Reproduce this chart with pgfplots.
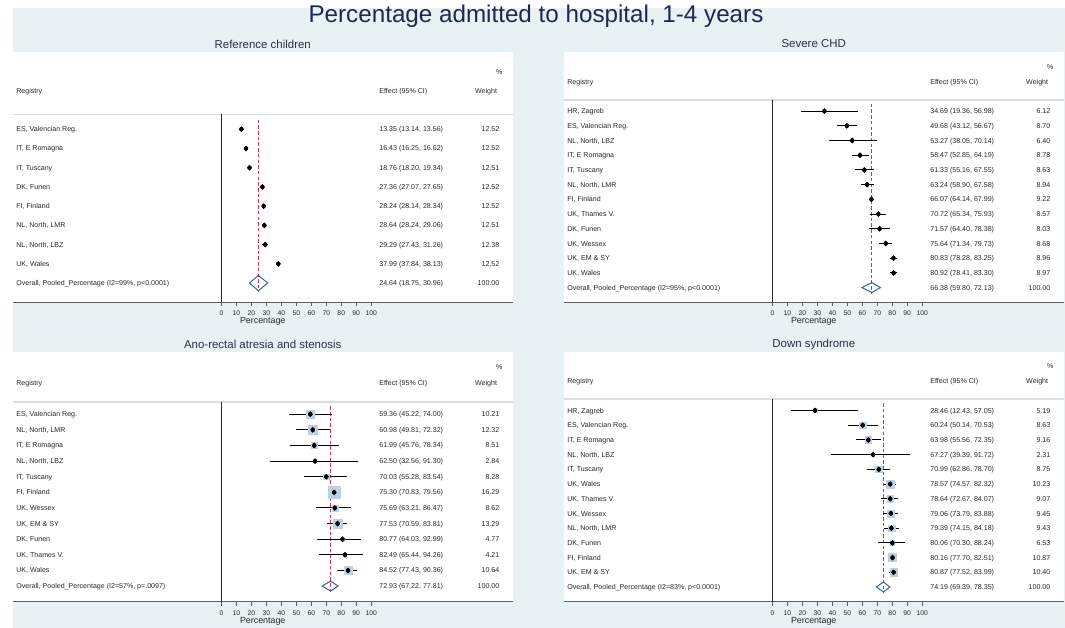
\documentclass[border=0pt]{standalone}
\usepackage{fontspec}
\setmainfont{Liberation Sans}
\usepackage{pgfplots}
\pgfplotsset{compat=1.18}
\usepackage{pgfplotstable}

\definecolor{bgc}{RGB}{232,241,243}
\definecolor{ttl}{RGB}{28,42,80}
\definecolor{sub}{RGB}{40,48,72}
\definecolor{txt}{RGB}{40,40,40}
\definecolor{sepc}{RGB}{218,220,222}
\definecolor{axc}{RGB}{95,95,95}
\definecolor{refl}{RGB}{205,55,85}
\definecolor{dia}{RGB}{55,100,150}
\definecolor{boxc}{RGB}{192,208,226}

% Reference children
\pgfplotstableread{
row est lo hi w
1 13.35 13.14 13.56 12.52
2 16.43 16.25 16.62 12.52
3 18.76 18.20 19.34 12.51
4 27.36 27.07 27.65 12.52
5 28.24 28.14 28.34 12.52
6 28.64 28.24 29.06 12.51
7 29.29 27.43 31.26 12.38
8 37.99 37.84 38.13 12.52
}\tabA
% Severe CHD
\pgfplotstableread{
row est lo hi w
1 34.69 19.36 56.98 6.12
2 49.68 43.12 56.67 8.70
3 53.27 38.05 70.14 6.40
4 58.47 52.85 64.19 8.78
5 61.33 55.16 67.55 8.63
6 63.24 58.90 67.58 8.94
7 66.07 64.14 67.99 9.22
8 70.72 65.34 75.93 8.57
9 71.57 64.40 78.38 8.03
10 75.64 71.34 79.73 8.68
11 80.83 78.28 83.25 8.96
12 80.92 78.41 83.30 8.97
}\tabB
% Ano-rectal atresia and stenosis
\pgfplotstableread{
row est lo hi w
1 59.36 45.22 74.00 10.21
2 60.98 49.81 72.32 12.32
3 61.99 45.76 78.34 8.51
4 62.50 32.56 91.30 2.84
5 70.03 55.28 83.54 8.28
6 75.30 70.83 79.56 16.29
7 75.69 63.21 86.47 8.62
8 77.53 70.59 83.81 13.29
9 80.77 64.03 92.99 4.77
10 82.49 65.44 94.26 4.21
11 84.52 77.43 90.36 10.64
}\tabC
% Down syndrome
\pgfplotstableread{
row est lo hi w
1 28.46 12.43 57.05 5.19
2 60.24 50.14 70.53 8.63
3 63.98 55.56 72.35 9.16
4 67.27 39.39 91.72 2.31
5 70.99 62.86 78.70 8.75
6 78.57 74.57 82.32 10.23
7 78.64 72.67 84.07 9.07
8 79.06 73.79 83.88 9.45
9 79.39 74.15 84.18 9.43
10 80.06 70.30 88.24 6.53
11 80.16 77.70 82.51 10.87
12 80.87 77.52 83.99 10.40
}\tabD

\tikzset{tx/.style={font=\fontsize{7.1}{8.5}\selectfont, text=txt, inner sep=0pt, yshift=-2.54bp}}

\pgfplotsset{
  forest/.style={
    scale only axis, width=499.5bp, height=250bp, anchor=south west,
    xmin=-139.1, xmax=194.3, ymax=3,
    axis x line*=bottom, axis y line=none,
    x axis line style={draw=axc, line width=1.3bp, -},
    xtick={0,10,...,100},
    tick align=outside, major tick length=4bp,
    xtick style={draw=axc, line width=0.7bp},
    ytick=\empty,
    /pgf/number format/assume math mode=true,
    xticklabel style={font=\fontsize{6.8}{7}\selectfont, text=txt, inner sep=1pt, yshift=-3.5bp},
    xlabel={Percentage},
    xlabel style={font=\fontsize{8.9}{9}\selectfont, text=txt, inner sep=0pt, yshift=-0.8bp},
    axis background/.style={fill=white},
    clip=false,
  },
  ci/.style={only marks, mark=none, forget plot,
    error bars/x dir=both, error bars/x explicit, error bars/error mark=none,
    error bars/error bar style={draw=black, solid, line width=0.9bp}},
  estm/.style={only marks, mark=diamond*, mark size=2.6bp, black, mark options={solid}},
  refline/.style={no marks, draw=refl, color=refl, line width=1.2bp, dash pattern=on 3.5bp off 2.2bp},
  dmd/.style={no marks, draw=dia, line width=1bp},
  wbox/.style={scatter, only marks, mark=square*,
    scatter/use mapped color={draw=boxc, fill=boxc},
    visualization depends on={\thisrow{w} \as \wt},
    scatter/@pre marker code/.append style={/tikz/mark size=0.36*\wt}},
}

\newcommand\rt[4]{%
  \node[tx, anchor=base west] at (axis cs:-137.0,-#1) {#2};
  \node[tx, anchor=base west] at (axis cs:105.3,-#1) {#3};
  \node[tx, anchor=base east] at (axis cs:185.6,-#1) {#4};}
\newcommand\hdr{%
  \node[tx, anchor=base] at (axis cs:185.4,2) {\%};
  \node[tx, anchor=base west] at (axis cs:-137.0,1) {Registry};
  \node[tx, anchor=base west] at (axis cs:105.3,1) {Effect (95\% CI)};
  \node[tx, anchor=base] at (axis cs:176.7,1) {Weight};
  \draw[sepc, line width=1.8bp] (axis cs:-139.1,-0.23) -- (axis cs:194.3,-0.23);}

\begin{document}
\begin{tikzpicture}
\useasboundingbox (0,0) rectangle (1065bp,628bp);
\fill[white] (0,0) rectangle (1065bp,628bp);
\fill[bgc] (13bp,0) rectangle (1065bp,620bp);
\node[font=\fontsize{24.3}{28}\selectfont, text=ttl] at (536bp,611.3bp) {Percentage admitted to hospital, 1-4 years};
\node[font=\fontsize{11.5}{13}\selectfont, text=sub] at (262.75bp,584bp) {Reference children};
\node[font=\fontsize{11.5}{13}\selectfont, text=sub] at (813.75bp,584bp) {Severe CHD};
\node[font=\fontsize{11.5}{13}\selectfont, text=sub] at (262.75bp,283.3bp) {Ano-rectal atresia and stenosis};
\node[font=\fontsize{11.5}{13}\selectfont, text=sub] at (813.75bp,283.3bp) {Down syndrome};

% ---------------- Panel 1
\begin{axis}[forest, at={(13bp,325.7bp)}, ymin=-10]
\hdr
\draw[black!85, line width=0.8bp] (axis cs:0,-0.23) -- (axis cs:0,-10);
\addplot[refline] coordinates {(24.64,-0.5) (24.64,-9.42)};
\addplot[ci] table[x=est, y expr=-\thisrow{row}, x error plus expr=\thisrow{hi}-\thisrow{est}, x error minus expr=\thisrow{est}-\thisrow{lo}] {\tabA};
\addplot[estm] table[x=est, y expr=-\thisrow{row}] {\tabA};
\addplot[dmd] coordinates {(18.75,-9) (24.64,-8.6) (30.96,-9) (24.64,-9.4)} -- cycle;
\rt{1}{ES, Valencian Reg.}{13.35 (13.14, 13.56)}{12.52}
\rt{2}{IT, E Romagna}{16.43 (16.25, 16.62)}{12.52}
\rt{3}{IT, Tuscany}{18.76 (18.20, 19.34)}{12.51}
\rt{4}{DK, Funen}{27.36 (27.07, 27.65)}{12.52}
\rt{5}{FI, Finland}{28.24 (28.14, 28.34)}{12.52}
\rt{6}{NL, North, LMR}{28.64 (28.24, 29.06)}{12.51}
\rt{7}{NL, North, LBZ}{29.29 (27.43, 31.26)}{12.38}
\rt{8}{UK, Wales}{37.99 (37.84, 38.13)}{12.52}
\rt{9}{Overall, Pooled\_Percentage (I2=99\%, p<0.0001)}{24.64 (18.75, 30.96)}{100.00}
\end{axis}

% ---------------- Panel 2
\begin{axis}[forest, at={(564bp,325.7bp)}, ymin=-14]
\hdr
\draw[black!85, line width=0.8bp] (axis cs:0,-0.23) -- (axis cs:0,-14);
\addplot[refline] coordinates {(66.38,-0.5) (66.38,-13.42)};
\addplot[ci] table[x=est, y expr=-\thisrow{row}, x error plus expr=\thisrow{hi}-\thisrow{est}, x error minus expr=\thisrow{est}-\thisrow{lo}] {\tabB};
\addplot[estm] table[x=est, y expr=-\thisrow{row}] {\tabB};
\addplot[dmd] coordinates {(59.80,-13) (66.38,-12.66) (72.13,-13) (66.38,-13.34)} -- cycle;
\rt{1}{HR, Zagreb}{34.69 (19.36, 56.98)}{6.12}
\rt{2}{ES, Valencian Reg.}{49.68 (43.12, 56.67)}{8.70}
\rt{3}{NL, North, LBZ}{53.27 (38.05, 70.14)}{6.40}
\rt{4}{IT, E Romagna}{58.47 (52.85, 64.19)}{8.78}
\rt{5}{IT, Tuscany}{61.33 (55.16, 67.55)}{8.63}
\rt{6}{NL, North, LMR}{63.24 (58.90, 67.58)}{8.94}
\rt{7}{FI, Finland}{66.07 (64.14, 67.99)}{9.22}
\rt{8}{UK, Thames V.}{70.72 (65.34, 75.93)}{8.57}
\rt{9}{DK, Funen}{71.57 (64.40, 78.38)}{8.03}
\rt{10}{UK, Wessex}{75.64 (71.34, 79.73)}{8.68}
\rt{11}{UK, EM \& SY}{80.83 (78.28, 83.25)}{8.96}
\rt{12}{UK, Wales}{80.92 (78.41, 83.30)}{8.97}
\rt{13}{Overall, Pooled\_Percentage (I2=95\%, p<0.0001)}{66.38 (59.80, 72.13)}{100.00}
\end{axis}

% ---------------- Panel 3
\begin{axis}[forest, at={(13bp,26.3bp)}, ymin=-13]
\hdr
\draw[black!85, line width=0.8bp] (axis cs:0,-0.23) -- (axis cs:0,-13);
\addplot[wbox] table[x=est, y expr=-\thisrow{row}] {\tabC};
\addplot[refline] coordinates {(72.93,-0.5) (72.93,-12.4)};
\addplot[ci] table[x=est, y expr=-\thisrow{row}, x error plus expr=\thisrow{hi}-\thisrow{est}, x error minus expr=\thisrow{est}-\thisrow{lo}] {\tabC};
\addplot[estm] table[x=est, y expr=-\thisrow{row}] {\tabC};
\addplot[dmd] coordinates {(67.22,-12) (72.93,-11.68) (77.81,-12) (72.93,-12.32)} -- cycle;
\rt{1}{ES, Valencian Reg.}{59.36 (45.22, 74.00)}{10.21}
\rt{2}{NL, North, LMR}{60.98 (49.81, 72.32)}{12.32}
\rt{3}{IT, E Romagna}{61.99 (45.76, 78.34)}{8.51}
\rt{4}{NL, North, LBZ}{62.50 (32.56, 91.30)}{2.84}
\rt{5}{IT, Tuscany}{70.03 (55.28, 83.54)}{8.28}
\rt{6}{FI, Finland}{75.30 (70.83, 79.56)}{16.29}
\rt{7}{UK, Wessex}{75.69 (63.21, 86.47)}{8.62}
\rt{8}{UK, EM \& SY}{77.53 (70.59, 83.81)}{13.29}
\rt{9}{DK, Funen}{80.77 (64.03, 92.99)}{4.77}
\rt{10}{UK, Thames V.}{82.49 (65.44, 94.26)}{4.21}
\rt{11}{UK, Wales}{84.52 (77.43, 90.36)}{10.64}
\rt{12}{Overall, Pooled\_Percentage (I2=57\%, p=.0097)}{72.93 (67.22, 77.81)}{100.00}
\end{axis}

% ---------------- Panel 4
\begin{axis}[forest, at={(564bp,26.3bp)}, ymin=-14]
\hdr
\draw[black!85, line width=0.8bp] (axis cs:0,-0.23) -- (axis cs:0,-14);
\addplot[wbox] table[x=est, y expr=-\thisrow{row}] {\tabD};
\addplot[refline] coordinates {(74.19,-0.5) (74.19,-13.42)};
\addplot[ci] table[x=est, y expr=-\thisrow{row}, x error plus expr=\thisrow{hi}-\thisrow{est}, x error minus expr=\thisrow{est}-\thisrow{lo}] {\tabD};
\addplot[estm] table[x=est, y expr=-\thisrow{row}] {\tabD};
\addplot[dmd] coordinates {(69.39,-13) (74.19,-12.66) (78.35,-13) (74.19,-13.34)} -- cycle;
\rt{1}{HR, Zagreb}{28.46 (12.43, 57.05)}{5.19}
\rt{2}{ES, Valencian Reg.}{60.24 (50.14, 70.53)}{8.63}
\rt{3}{IT, E Romagna}{63.98 (55.56, 72.35)}{9.16}
\rt{4}{NL, North, LBZ}{67.27 (39.39, 91.72)}{2.31}
\rt{5}{IT, Tuscany}{70.99 (62.86, 78.70)}{8.75}
\rt{6}{UK, Wales}{78.57 (74.57, 82.32)}{10.23}
\rt{7}{UK, Thames V.}{78.64 (72.67, 84.07)}{9.07}
\rt{8}{UK, Wessex}{79.06 (73.79, 83.88)}{9.45}
\rt{9}{NL, North, LMR}{79.39 (74.15, 84.18)}{9.43}
\rt{10}{DK, Funen}{80.06 (70.30, 88.24)}{6.53}
\rt{11}{FI, Finland}{80.16 (77.70, 82.51)}{10.87}
\rt{12}{UK, EM \& SY}{80.87 (77.52, 83.99)}{10.40}
\rt{13}{Overall, Pooled\_Percentage (I2=83\%, p<0.0001)}{74.19 (69.39, 78.35)}{100.00}
\end{axis}
\end{tikzpicture}
\end{document}
